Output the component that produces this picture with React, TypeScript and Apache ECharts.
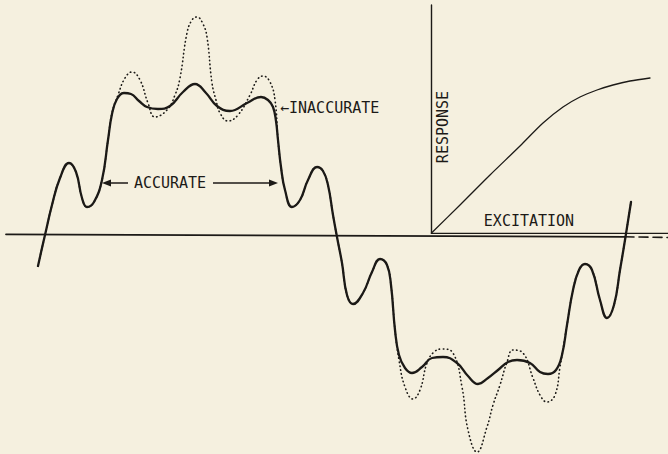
import React, { useEffect, useRef } from "react";
import * as echarts from "echarts";

// Horizontal position (px across the figure) and amplitude above the base line.
const accurateCurve: [number, number][] = [
  [38, -30], [42, -12], [45, 1], [52, 31], [60, 58], [69, 73], [76, 64], [82, 38], [87, 29],
  [94, 34], [102, 56], [108, 96], [112, 122], [117, 137], [124, 143], [131, 142], [139, 135],
  [147, 129], [158, 127], [170, 130], [183, 144], [195, 152], [206, 143], [217, 130], [230, 125],
  [247, 133], [261, 139], [268, 136], [273, 129], [276, 115], [278, 96], [281, 69], [285, 46],
  [292, 29], [300, 36], [308, 56], [317, 69], [323, 65], [328, 51], [333, 21], [337, -1],
  [342, -27], [347, -59], [353, -68], [363, -57], [372, -36], [380, -23], [387, -29], [391, -49],
  [395, -94], [399, -119], [405, -132], [412, -137], [422, -131], [432, -122], [443, -121],
  [457, -127], [468, -140], [478, -148], [488, -142], [498, -134], [508, -126], [517, -124],
  [530, -127], [540, -136], [548, -138], [556, -134], [562, -119], [567, -89], [573, -54],
  [579, -34], [585, -28], [592, -34], [600, -64], [607, -82], [614, -69], [620, -34], [625, -4],
  [631, 34],
];

const inaccurateCurve: [number, number][] = [
  [38, -30], [42, -12], [45, 1], [52, 31], [60, 58], [69, 73], [76, 64], [82, 38], [87, 29],
  [94, 34], [102, 56], [108, 96], [112, 123], [118, 141], [125, 158], [132, 164], [140, 156],
  [148, 133], [155, 119], [167, 126], [175, 141], [180, 158], [187, 203], [192, 216], [197, 219],
  [203, 212], [207, 199], [212, 153], [216, 136], [220, 123], [228, 115], [238, 121], [250, 141],
  [257, 156], [263, 160], [270, 154], [275, 136], [278, 96], [281, 69], [285, 46], [292, 29],
  [300, 36], [308, 56], [317, 69], [323, 65], [328, 51], [333, 21], [337, -1], [342, -27],
  [347, -59], [353, -68], [363, -57], [372, -36], [380, -23], [387, -29], [391, -49], [395, -94],
  [399, -124], [405, -151], [413, -163], [420, -154], [427, -127], [434, -116], [442, -113],
  [453, -117], [462, -151], [468, -194], [477, -216], [487, -191], [493, -169], [500, -149],
  [507, -126], [513, -114], [523, -117], [533, -142], [540, -159], [547, -166], [555, -159],
  [560, -131], [567, -89], [573, -54], [579, -34], [585, -28], [592, -34], [600, -64], [607, -82],
  [614, -69], [620, -34], [625, -4], [631, 34],
];

const responseCurve: [number, number][] = [
  [431.5, 3], [460, 31], [490, 61], [520, 90], [543, 113], [563, 129], [580, 139], [597, 146],
  [613, 151], [630, 155], [650, 158],
];

const baseLine: [number, number][] = [[6, 1.7], [625, -0.8]];
const baseLineDashed: [number, number][] = [[625, -0.8], [668, -1.5]];
const excitationAxis: [number, number][] = [[431.5, 2.6], [668, 2.6]];
const responseAxis: [number, number][] = [[431.5, 2.6], [431.5, 231]];

const labels = {
  accurate: "ACCURATE",
  inaccurate: "←INACCURATE",
  response: "RESPONSE",
  excitation: "EXCITATION",
};

const INK = "#1c1a17";
const FONT = '15px "DejaVu Sans Mono"';

export default function App() {
  const ref = useRef<HTMLDivElement>(null);
  useEffect(() => {
    if (!ref.current) return;
    const chart = echarts.init(ref.current, undefined, { renderer: "svg" });
    const plain = (data: [number, number][], width: number, type: any = "solid") => ({
      type: "line",
      data,
      symbol: "none",
      silent: true,
      lineStyle: { color: INK, width, type, cap: "round", join: "round" },
    });
    chart.setOption({
      animation: false,
      backgroundColor: "#f5f0df",
      grid: { left: 0, right: 0, top: 0, bottom: 0 },
      xAxis: { type: "value", min: 0, max: 668, show: false },
      yAxis: { type: "value", min: -218, max: 236, show: false },
      series: [
        plain(baseLine, 1.8),
        plain(baseLineDashed, 1.6, [9, 5]),
        plain(excitationAxis, 1.4),
        plain(responseAxis, 1.4),
        { ...plain(responseCurve, 1.3), smooth: 0.3 },
        { ...plain(accurateCurve, 2.3), smooth: 0.45, name: "Accurate" },
        {
          ...plain(inaccurateCurve, 1.6, [0.5, 3.5]),
          smooth: 0.45,
          name: "Inaccurate",
        },
      ],
      graphic: [
        {
          type: "text",
          x: 170,
          y: 183,
          style: { text: labels.accurate, font: FONT, fill: INK, align: "center", verticalAlign: "middle" },
        },
        { type: "line", shape: { x1: 106, y1: 183, x2: 128, y2: 183 }, style: { stroke: INK, lineWidth: 1.5 } },
        { type: "polygon", shape: { points: [[102, 183], [111, 179.5], [111, 186.5]] }, style: { fill: INK } },
        { type: "line", shape: { x1: 213, y1: 183, x2: 273, y2: 183 }, style: { stroke: INK, lineWidth: 1.5 } },
        { type: "polygon", shape: { points: [[278, 183], [269, 179.5], [269, 186.5]] }, style: { fill: INK } },
        {
          type: "text",
          x: 280,
          y: 108,
          style: { text: labels.inaccurate, font: FONT, fill: INK, align: "left", verticalAlign: "middle" },
        },
        {
          type: "text",
          x: 443,
          y: 127,
          rotation: Math.PI / 2,
          style: { text: labels.response, font: FONT, fill: INK, align: "center", verticalAlign: "middle" },
        },
        {
          type: "text",
          x: 529,
          y: 221,
          style: { text: labels.excitation, font: FONT, fill: INK, align: "center", verticalAlign: "middle" },
        },
      ],
    });
    return () => chart.dispose();
  }, []);
  return (
    <div
      ref={ref}
      style={{ position: "fixed", left: 0, top: 0, width: 668, height: 454 }}
    />
  );
}
